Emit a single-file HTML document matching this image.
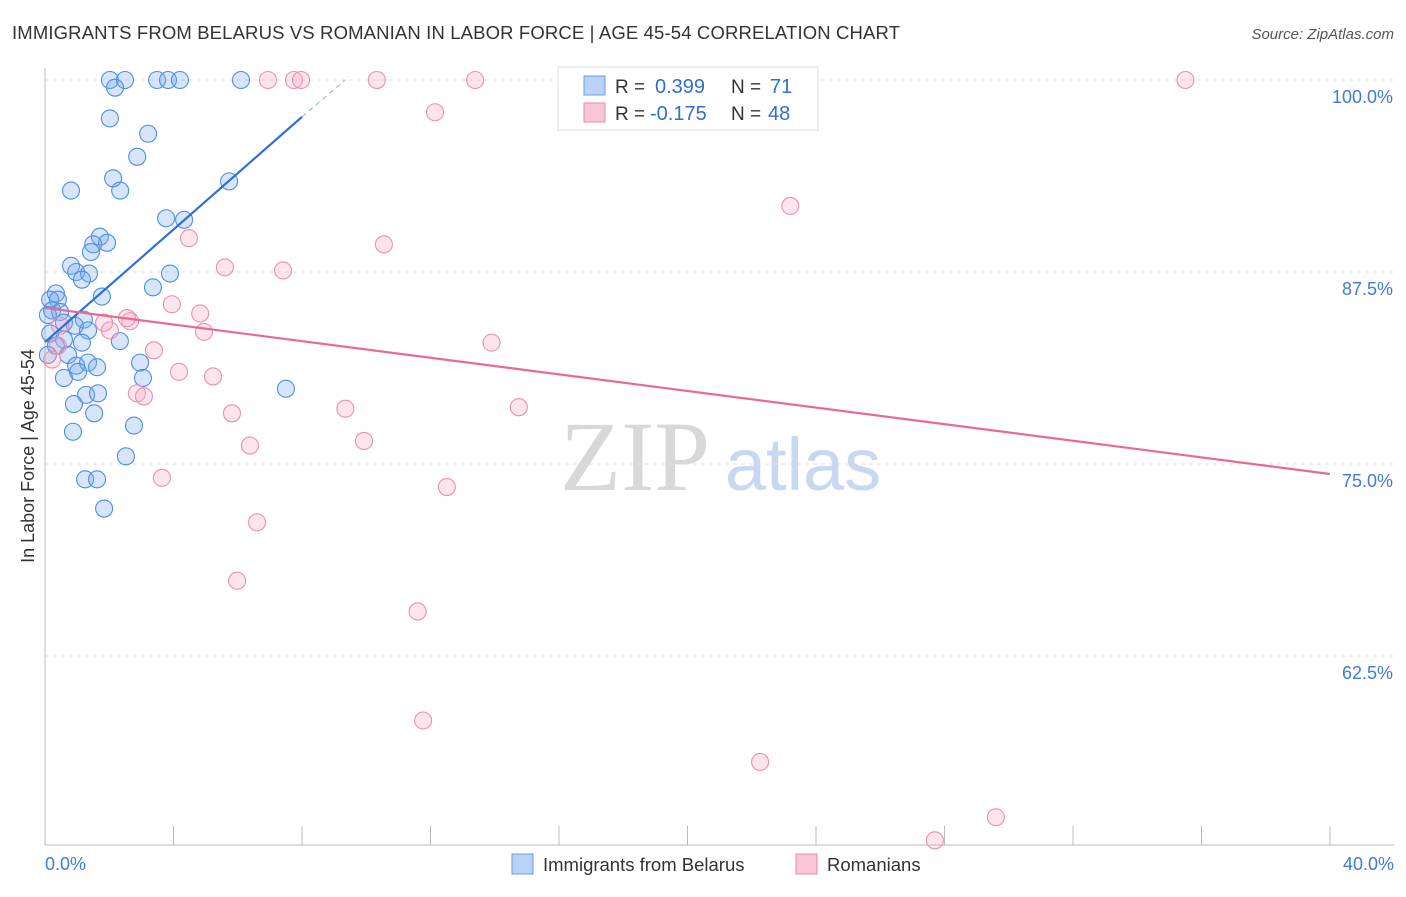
<!DOCTYPE html>
<html><head><meta charset="utf-8"><style>
body{margin:0;background:#fff;font-family:"Liberation Sans",sans-serif}
</style></head><body>
<svg width="1406" height="892" xmlns="http://www.w3.org/2000/svg">
<text x="12" y="39" font-size="18.5" fill="#333" textLength="888">IMMIGRANTS FROM BELARUS VS ROMANIAN IN LABOR FORCE | AGE 45-54 CORRELATION CHART</text>
<text x="1394" y="39" font-size="15" fill="#555" font-style="italic" text-anchor="end">Source: ZipAtlas.com</text>
<text x="34" y="456" font-size="18" fill="#333" text-anchor="middle" transform="rotate(-90 34 456)">In Labor Force | Age 45-54</text>
<g id="wm"><text x="635" y="490" font-size="100" fill="#d8d8d8" font-family="Liberation Serif,serif" text-anchor="middle">ZIP</text><text x="803" y="490" font-size="74" fill="#c8d8f0" text-anchor="middle">atlas</text></g>
<g id="grid"></g><g id="axes"></g><g id="pts"></g><g id="lines"></g>
<g>
<rect x="558" y="67" width="260" height="63" fill="#fff" stroke="#ddd"/>
<rect x="584" y="76" width="21" height="19" fill="#b8d3f5" stroke="#6a9ee0"/>
<rect x="584" y="103" width="21" height="19" fill="#f9c6d6" stroke="#ec8aaa"/>
<text x="615" y="93" font-size="19" fill="#333">R =</text>
<text x="655" y="93" font-size="20" fill="#2f6fcf">0.399</text>
<text x="731" y="93" font-size="19" fill="#333">N =</text>
<text x="770" y="93" font-size="20" fill="#2f6fcf">71</text>
<text x="615" y="120" font-size="19" fill="#333">R =</text>
<text x="650" y="120" font-size="20" fill="#2f6fcf">-0.175</text>
<text x="731" y="120" font-size="19" fill="#333">N =</text>
<text x="768" y="120" font-size="20" fill="#2f6fcf">48</text>
</g>
<g>
<rect x="512" y="854" width="21" height="20" fill="#b8d3f5" stroke="#6a9ee0"/>
<text x="543" y="871" font-size="18.5" fill="#333">Immigrants from Belarus</text>
<rect x="796" y="854" width="21" height="20" fill="#f9c6d6" stroke="#ec8aaa"/>
<text x="827" y="871" font-size="18.5" fill="#333">Romanians</text>
</g>
</svg>
<script>
const xTicks=[0,4,8,12,16,20,24,28,32,36,40];
const yTicks=[100,87.5,75,62.5];
const yTickLabels=["100.0%","87.5%","75.0%","62.5%"];
const blueX=[2.02,2.49,2.18,3.49,3.83,4.2,6.1,2.02,3.21,2.87,2.12,2.34,0.81,5.73,3.77,4.33,1.71,1.93,1.5,1.43,0.81,0.97,1.37,1.15,3.89,3.36,0.34,1.77,0.16,0.40,0.22,0.47,0.09,1.21,0.59,0.93,0.16,1.34,2.33,0.59,1.15,0.34,0.72,0.09,2.96,0.97,1.34,1.62,1.03,0.59,3.05,7.5,1.28,1.65,0.9,1.53,2.77,0.87,2.52,1.25,1.62,1.84];
const blueY=[100,100,99.5,100,100,100,100,97.5,96.5,95.0,93.6,92.8,92.8,93.4,91.0,90.9,89.8,89.4,89.3,88.8,87.9,87.5,87.4,87.0,87.4,86.5,86.1,85.9,85.7,85.7,85.0,84.9,84.7,84.4,84.2,84.0,83.5,83.7,83.0,83.1,82.9,82.7,82.1,82.1,81.6,81.4,81.6,81.3,81.0,80.6,80.6,79.9,79.5,79.6,78.9,78.3,77.5,77.1,75.5,74.0,74.0,72.1];
const pinkX=[6.94,7.75,7.97,10.33,13.39,16.4,35.5,12.14,23.2,4.48,10.55,5.6,7.41,3.95,4.83,2.65,1.84,2.55,2.02,4.95,0.47,0.40,0.22,13.9,3.39,4.17,5.23,2.86,3.08,9.35,14.75,5.82,9.93,6.38,12.51,3.64,6.6,5.98,11.6,11.77,22.26,29.6,27.7];
const pinkY=[100,100,100,100,100,100,100,97.9,91.8,89.7,89.3,87.8,87.6,85.4,84.8,84.3,84.2,84.5,83.7,83.6,84.0,82.7,81.8,82.9,82.4,81.0,80.7,79.6,79.4,78.6,78.7,78.3,76.5,76.2,73.5,74.1,71.2,67.4,65.4,58.3,55.6,52.0,50.5];
const blueTrend=[0,82.94,8,97.6,9.34,100];
const pinkTrend=[0,85.16,40,74.35];
const X=v=>45+v*1285/40, Y=v=>80+(100-v)*192/12.5;
const NS="http://www.w3.org/2000/svg";
function mk(t,a,p){const e=document.createElementNS(NS,t);for(const k in a)e.setAttribute(k,a[k]);document.getElementById(p).appendChild(e);return e;}
yTicks.forEach((t,i)=>{
 const g=mk('line',{x1:45,x2:1394,y1:Y(t),y2:Y(t),stroke:'#ddd','stroke-dasharray':'4,4'},'grid');
 
 
 const l=mk('text',{x:1393,y:Y(t)+23,'font-size':18,fill:'#3f7bd9','text-anchor':'end'},'axes');l.textContent=yTickLabels[i];
 
 
});
const ax=mk('line',{x1:45,x2:45,y1:68,y2:845,stroke:'#bbb'},'axes');


const bx=mk('line',{x1:45,x2:1394,y1:845,y2:845,stroke:'#bbb'},'axes');


xTicks.forEach(t=>{const e=mk('line',{x1:X(t),x2:X(t),y1:826,y2:845,stroke:'#bbb'},'axes');
 
 });
[[0,'0.0%','start',45],[40,'40.0%','end',1394]].forEach(a=>{const e=mk('text',{x:a[3],y:870,'font-size':18,fill:'#3f7bd9','text-anchor':a[2]},'axes');e.textContent=a[1];
 
 });
blueX.forEach((v,i)=>{const c=mk('circle',{cx:X(v),cy:Y(blueY[i]),r:8.5,fill:'rgba(120,170,235,0.3)',stroke:'#4f8ee0','stroke-width':1.1},'pts');
 
 });
pinkX.forEach((v,i)=>{const c=mk('circle',{cx:X(v),cy:Y(pinkY[i]),r:8.5,fill:'rgba(245,170,195,0.3)',stroke:'#eb90ae','stroke-width':1.1},'pts');
 
 });
const b1=mk('line',{x1:X(blueTrend[0]),y1:Y(blueTrend[1]),x2:X(blueTrend[2]),y2:Y(blueTrend[3]),stroke:'#2f6fd6','stroke-width':2.2},'lines');


const b2=mk('line',{x1:X(blueTrend[2]),y1:Y(blueTrend[3]),x2:X(blueTrend[4]),y2:Y(blueTrend[5]),stroke:'#9dbbe8','stroke-width':1.2,'stroke-dasharray':'5,4'},'lines');


const p1=mk('line',{x1:X(pinkTrend[0]),y1:Y(pinkTrend[1]),x2:X(pinkTrend[2]),y2:Y(pinkTrend[3]),stroke:'#e8689a','stroke-width':2.2},'lines');


</script>
</body></html>
